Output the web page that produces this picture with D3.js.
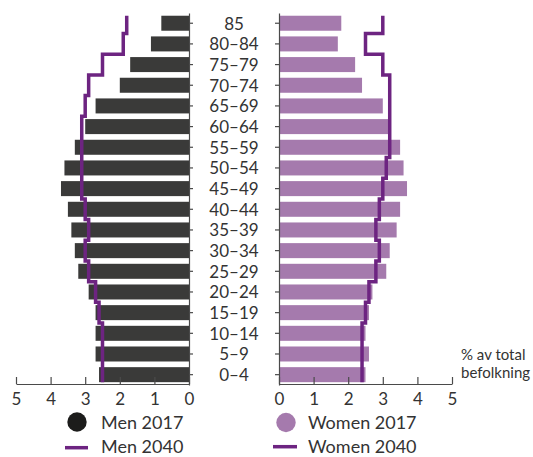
<!DOCTYPE html>
<html>
<head>
<meta charset="utf-8">
<script src="https://cdn.jsdelivr.net/npm/d3@7"></script>
<style>
  body { margin: 0; background: #fff; }
  text { font-family: Lato, "Open Sans", sans-serif; fill: #333; }
</style>
</head>
<body>
<svg id="chart" width="533" height="457"></svg>
<script>
// age groups, top to bottom
var ageGroups = ['85', '80–84', '75–79', '70–74', '65–69', '60–64', '55–59', '50–54', '45–49',
  '40–44', '35–39', '30–34', '25–29', '20–24', '15–19', '10–14', '5–9', '0–4'];

// % of total population
var men2017 = [0.8, 1.1, 1.7, 2.0, 2.7, 3.0, 3.3, 3.6, 3.7, 3.5, 3.4, 3.3, 3.2, 2.9, 2.7, 2.7, 2.7, 2.6];
var men2040 = [1.8, 1.9, 2.5, 2.9, 3.0, 3.1, 3.1, 3.1, 3.1, 3.0, 2.9, 3.0, 2.9, 2.7, 2.6, 2.5, 2.5, 2.5];
var women2017 = [1.8, 1.7, 2.2, 2.4, 3.0, 3.2, 3.5, 3.6, 3.7, 3.5, 3.4, 3.2, 3.1, 2.7, 2.6, 2.5, 2.6, 2.5];
var women2040 = [3.0, 2.5, 3.0, 3.2, 3.2, 3.2, 3.2, 3.1, 3.0, 2.9, 2.8, 2.9, 2.8, 2.6, 2.5, 2.4, 2.4, 2.4];

var xTicks = [0, 1, 2, 3, 4, 5];
var unitLabel = ['% av total', 'befolkning'];

var menColor = '#3a3a39';
var womenColor = '#a57aad';
var lineColor = '#6d2481';

var svg = d3.select('#chart');

var y = d3.scaleBand().domain(ageGroups).range([12.9, 385]).paddingInner(0.274).paddingOuter(0.137);
var xL = d3.scaleLinear().domain([0, 5]).range([189, 16]);
var xR = d3.scaleLinear().domain([0, 5]).range([279, 452]);

// bars
svg.append('g').selectAll('rect').data(men2017).enter().append('rect')
  .attr('x', function(d){ return xL(d); })
  .attr('y', function(d, i){ return y(ageGroups[i]); })
  .attr('width', function(d){ return xL(0) - xL(d); })
  .attr('height', y.bandwidth())
  .attr('fill', menColor);

svg.append('g').selectAll('rect').data(women2017).enter().append('rect')
  .attr('x', xR(0))
  .attr('y', function(d, i){ return y(ageGroups[i]); })
  .attr('width', function(d){ return xR(d) - xR(0); })
  .attr('height', y.bandwidth())
  .attr('fill', womenColor);

// step outline for 2040
function stepPoints(values, x){
  var gap = y.step() - y.bandwidth();
  var last = values.length - 1;
  var pts = [];
  values.forEach(function(v, i){
    var top = y(ageGroups[i]);
    var bottom = top + y.bandwidth();
    if(i > 0) top -= gap / 2;
    if(i < last) bottom += gap / 2;
    pts.push([x(v), top]);
    pts.push([x(v), bottom]);
  });
  return pts;
}

var line = d3.line();
svg.append('path').attr('d', line(stepPoints(men2040, xL)))
  .attr('fill', 'none').attr('stroke', lineColor).attr('stroke-width', 3.5);
svg.append('path').attr('d', line(stepPoints(women2040, xR)))
  .attr('fill', 'none').attr('stroke', lineColor).attr('stroke-width', 3.5);

// vertical axes
var axL = svg.append('g').attr('transform', 'translate(' + xL(0) + ',0)')
  .call(d3.axisRight(y).tickSize(4).tickSizeOuter(0).tickFormat(''));
var axR = svg.append('g').attr('transform', 'translate(' + xR(0) + ',0)')
  .call(d3.axisLeft(y).tickSize(4).tickSizeOuter(0).tickFormat(''));

// bottom axes
var bxL = svg.append('g').attr('transform', 'translate(0,384)')
  .call(d3.axisBottom(xL).tickValues(xTicks).tickFormat(d3.format('d'))
    .tickSize(-7).tickSizeOuter(0).tickPadding(9));
var bxR = svg.append('g').attr('transform', 'translate(0,384)')
  .call(d3.axisBottom(xR).tickValues(xTicks).tickFormat(d3.format('d'))
    .tickSize(-7).tickSizeOuter(0).tickPadding(9));

[axL, axR, bxL, bxR].forEach(function(g){
  g.selectAll('path, line').attr('stroke', '#4a4a4a').attr('stroke-width', 1.2);
  g.selectAll('text').style('font-size', '17px').attr('fill', '#333')
    .style('font-family', 'Lato, "Open Sans", sans-serif');
});

// age group labels
svg.append('g').selectAll('text').data(ageGroups).enter().append('text')
  .attr('x', (xL(0) + xR(0)) / 2)
  .attr('y', function(d){ return y(d) + y.bandwidth() / 2; })
  .attr('text-anchor', 'middle')
  .attr('dominant-baseline', 'central')
  .style('font-size', '17px')
  .text(function(d){ return d; });

// unit label
svg.append('g').selectAll('text').data(unitLabel).enter().append('text')
  .attr('x', 461)
  .attr('y', function(d, i){ return 360 + i * 18; })
  .style('font-size', '15px')
  .text(function(d){ return d; });

// legend
var legend = svg.append('g');
legend.append('circle').attr('cx', 77).attr('cy', 422).attr('r', 9.7).attr('fill', '#1c1c1b');
legend.append('text').attr('x', 101).attr('y', 429).style('font-size', '18px').text('Men 2017');
legend.append('line').attr('x1', 65).attr('x2', 88).attr('y1', 447.7).attr('y2', 447.7)
  .attr('stroke', lineColor).attr('stroke-width', 3.5);
legend.append('text').attr('x', 101).attr('y', 453).style('font-size', '18px').text('Men 2040');

legend.append('circle').attr('cx', 286).attr('cy', 422.5).attr('r', 9.7).attr('fill', womenColor);
legend.append('text').attr('x', 308).attr('y', 429).style('font-size', '18px').text('Women 2017');
legend.append('line').attr('x1', 273).attr('x2', 297).attr('y1', 446.7).attr('y2', 446.7)
  .attr('stroke', lineColor).attr('stroke-width', 3.5);
legend.append('text').attr('x', 308).attr('y', 453).style('font-size', '18px').text('Women 2040');
</script>
</body>
</html>
